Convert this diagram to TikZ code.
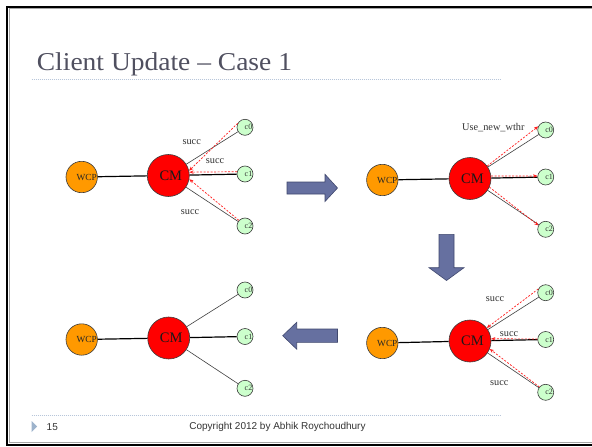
\documentclass[tikz,border=0pt]{standalone}
\usepackage{fontspec}
\setmainfont{Liberation Serif}
\newfontfamily\footfont{Liberation Sans}
\usetikzlibrary{arrows.meta}

\definecolor{wcpfill}{RGB}{255,153,0}
\definecolor{cmfill}{RGB}{255,0,0}
\definecolor{clientfill}{RGB}{204,255,204}
\definecolor{nodeedge}{RGB}{60,60,60}
\definecolor{blockfill}{RGB}{102,112,160}
\definecolor{blockedge}{RGB}{64,72,110}
\definecolor{titlegray}{RGB}{80,80,96}
\definecolor{ruleblue}{RGB}{184,198,218}
\definecolor{bulletblue}{RGB}{157,179,204}
\definecolor{msgred}{RGB}{255,30,30}

\tikzset{
  wcpnode/.style={circle, draw=nodeedge, line width=0.6pt, fill=wcpfill, inner sep=0pt,
    minimum size=31.4pt, font=\fontsize{9.3}{10}\selectfont, text=black!85},
  cmnode/.style={circle, draw=nodeedge, line width=0.6pt, fill=cmfill, inner sep=0pt,
    minimum size=42pt, font=\fontsize{14.5}{16}\selectfont, text=black!90},
  clientnode/.style={circle, draw=nodeedge, line width=0.6pt, fill=clientfill, inner sep=0pt,
    minimum size=16pt, font=\fontsize{8}{9}\selectfont, text=black!80},
  link/.style={line width=1.2pt, black},
  thinlink/.style={line width=0.6pt, black!75},
  msg/.style={msgred, line width=0.7pt, dash pattern=on 2pt off 1.5pt,
    -{Stealth[length=4.2pt,width=3.4pt]}},
  msglabel/.style={font=\fontsize{10.3}{11}\selectfont, text=black!80, inner sep=0pt},
  blockarrow/.style={fill=blockfill, draw=blockedge, line width=0.6pt},
  dotrule/.style={ruleblue, line width=0.8pt, dash pattern=on 1pt off 1pt},
}

\begin{document}
\begin{tikzpicture}[x=1pt,y=-1pt]
\useasboundingbox (0,0) rectangle (592,447);
\fill[white] (0,0) rectangle (592,447);

% slide frame (open on the right)
\draw[black, line width=2pt] (592,6.5) -- (7,6.5) -- (7,444.5) -- (592,444.5);
\draw[black!35, line width=0.7pt] (592,8.5) -- (9.3,8.5) -- (9.3,442.3) -- (592,442.3);

% title and rules
\node[anchor=base west, inner sep=0pt, text=titlegray, font=\fontsize{25.7}{30}\selectfont]
  (title) at (36.7,70) {\scalebox{1.07}[1]{Client Update – Case 1}};
\draw[dotrule] (31.7,79) -- (501.7,79);
\draw[dotrule] (31.7,415) -- (501.7,415);

% footer
\fill[bulletblue] (31.7,421) -- (37.2,426.5) -- (31.7,432) -- cycle;
\node[anchor=west, inner sep=0pt, text=black!80, font=\footfont\fontsize{10}{12}\selectfont]
  (pagenum) at (46.5,427) {15};
\node[inner sep=0pt, text=black!80, font=\footfont\fontsize{10}{12}\selectfont]
  (copyright) at (277.5,427) {Copyright 2012 by Abhik Roychoudhury};

% ---- step 1: clients report success to CM
\node[wcpnode] (aw) at (81.7,177) {\hspace{10pt}WCP};
\node[cmnode] (am) at (168.3,175.5) {\hspace{5pt}CM};
\node[clientnode] (a0) at (245,127.3) {\hspace{7pt}c0};
\node[clientnode] (a1) at (245,174) {\hspace{7pt}c1};
\node[clientnode] (a2) at (245,226) {\hspace{7pt}c2};
\draw[link] (aw) -- (am);
\draw[link] (am) -- (a1);
\draw[thinlink] (am) -- (a0);
\draw[thinlink] (am) -- (a2);
\draw[msg] (a0.151) -- (am.13);
\draw[msg] (a1.164) -- (am.9);
\draw[msg] (a2.137) -- (am.-10);
\node[msglabel] (as0) at (191.7,141.7) {succ};
\node[msglabel] (as1) at (215,160.7) {succ};
\node[msglabel] (as2) at (190,212.3) {succ};

% ---- step 2: CM pushes the new threshold
\node[wcpnode] (bw) at (382.3,180) {\hspace{10pt}WCP};
\node[cmnode] (bm) at (470,178.5) {\hspace{5pt}CM};
\node[clientnode] (b0) at (545.7,130) {\hspace{7pt}c0};
\node[clientnode] (b1) at (545.7,177) {\hspace{7pt}c1};
\node[clientnode] (b2) at (545.7,229.3) {\hspace{7pt}c2};
\draw[link] (bw) -- (bm);
\draw[link] (bm) -- (b1);
\draw[thinlink] (bm) -- (b0);
\draw[thinlink] (bm) -- (b2);
\draw[msg] (bm.36) -- (b0.154);
\draw[msg] (bm.7) -- (b1.173);
\draw[msg] (bm.-24) -- (b2.152);
\node[msglabel] (bs0) at (493.3,127.3) {Use\_new\_wthr};

% ---- step 3: clients acknowledge
\node[wcpnode] (cw) at (382.3,343) {\hspace{10pt}WCP};
\node[cmnode] (cc) at (470,341) {\hspace{5pt}CM};
\node[clientnode] (c0) at (545.7,292.7) {\hspace{7pt}c0};
\node[clientnode] (c1) at (545.7,339.5) {\hspace{7pt}c1};
\node[clientnode] (c2) at (545.7,392.3) {\hspace{7pt}c2};
\draw[link] (cw) -- (cc);
\draw[link] (cc) -- (c1);
\draw[thinlink] (cc) -- (c0);
\draw[thinlink] (cc) -- (c2);
\draw[msg] (c0.153) -- (cc.38);
\draw[msg] (c1.176) -- (cc.6);
\draw[msg] (c2.140) -- (cc.-22);
\node[msglabel] (cs0) at (495,299.3) {succ};
\node[msglabel] (cs1) at (509,334) {succ};
\node[msglabel] (cs2) at (499.3,383.3) {succ};

% ---- step 4: back to the plain configuration
\node[wcpnode] (dw) at (81.7,339.5) {\hspace{10pt}WCP};
\node[cmnode] (dm) at (168.7,338) {\hspace{5pt}CM};
\node[clientnode] (d0) at (245,290) {\hspace{7pt}c0};
\node[clientnode] (d1) at (245,336.5) {\hspace{7pt}c1};
\node[clientnode] (d2) at (245,388.3) {\hspace{7pt}c2};
\draw[link] (dw) -- (dm);
\draw[link] (dm) -- (d1);
\draw[thinlink] (dm) -- (d0);
\draw[thinlink] (dm) -- (d2);

% ---- block arrows between the steps
\filldraw[blockarrow] (287,182) -- (325,182) -- (325,174.3) -- (337.5,188)
  -- (325,201.5) -- (325,194) -- (287,194) -- cycle;
\filldraw[blockarrow] (439,234.3) -- (454,234.3) -- (454,267.7) -- (464,267.7)
  -- (446.5,280.5) -- (429,267.7) -- (439,267.7) -- cycle;
\filldraw[blockarrow] (337.5,329) -- (296.7,329) -- (296.7,322.3) -- (282.7,335.7)
  -- (296.7,349.2) -- (296.7,342.4) -- (337.5,342.4) -- cycle;
\end{tikzpicture}
\end{document}
